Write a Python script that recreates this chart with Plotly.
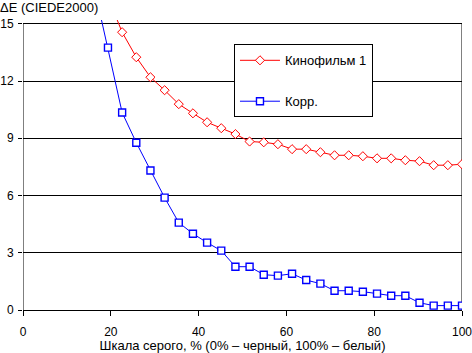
import plotly.graph_objects as go

x_vals = [i * 100 / 31 for i in range(32)]

kino = [None, None, None, None, None, None, 16.4, 14.56, 13.25, 12.2, 11.52, 10.79, 10.31, 9.84,
        9.53, 9.22, 8.83, 8.79, 8.69, 8.43, 8.43, 8.27, 8.11, 8.11, 8.06, 7.95, 7.95, 7.85,
        7.80, 7.59, 7.59, 7.64]
korr = [None, None, None, None, None, 17.0, 13.75, 10.35, 8.77, 7.31, 5.89, 4.58, 4.0, 3.53,
        3.11, 2.27, 2.27, 1.85, 1.80, 1.90, 1.57, 1.38, 1.01, 1.01, 0.96, 0.86, 0.75, 0.75,
        0.38, 0.23, 0.23, 0.23]

series_names = ["Кинофильм 1", "Корр."]
x_ticks = [0, 20, 40, 60, 80, 100]
y_ticks = [0, 3, 6, 9, 12, 15]

FONT = "Liberation Sans, Arial, sans-serif"

fig = go.Figure()
fig.add_trace(go.Scatter(
    x=x_vals, y=kino, name=series_names[0], mode="lines+markers",
    line=dict(color="#FF0000", width=1),
    marker=dict(symbol="diamond", size=7, color="white", line=dict(color="#FF0000", width=1)),
    legendgroup="a", connectgaps=False,
))
fig.add_trace(go.Scatter(
    x=x_vals, y=korr, name=series_names[1], mode="lines+markers",
    line=dict(color="#0000FF", width=1),
    marker=dict(symbol="square", size=7, color="white", line=dict(color="#0000FF", width=1.4)),
    legendgroup="b", connectgaps=False,
))

# plot border lines
for xv in [0, 100]:
    fig.add_shape(type="line", x0=xv, x1=xv, y0=0, y1=15, xref="x", yref="y",
                  line=dict(color="black", width=1), layer="below")

fig.update_layout(
    width=472, height=353,
    margin=dict(l=23, r=10, t=20, b=43, autoexpand=False),
    paper_bgcolor="white", plot_bgcolor="white",
    font=dict(family=FONT, size=13, color="black"),
    title=dict(text="ΔE (CIEDE2000)", x=0, xref="container", xanchor="left",
               y=0.992, yref="container", yanchor="top",
               font=dict(family=FONT, size=13, color="black")),
    showlegend=True,
    legend=dict(x=0.4806, y=0.916, xanchor="left", yanchor="top",
                bgcolor="white", bordercolor="black", borderwidth=1,
                tracegroupgap=21, font=dict(family=FONT, size=13),
                itemwidth=40),
    xaxis=dict(range=[0, 100], tickvals=x_ticks, ticks="outside", ticklen=5,
               tickcolor="black", showgrid=False, zeroline=False,
               showline=True, linecolor="black", linewidth=1,
               automargin=False, ticklabeloverflow="allow", ticklabelstandoff=6,
               title=dict(text="Шкала серого, % (0% – черный, 100% – белый)", standoff=2,
                          font=dict(family=FONT, size=13)),
               tickfont=dict(family=FONT, size=12)),
    yaxis=dict(range=[0, 15.2], tickvals=y_ticks, ticks="outside", ticklen=4,
               tickcolor="black", showgrid=True, gridcolor="black", gridwidth=1,
               zeroline=False, showline=False, automargin=False,
               ticklabeloverflow="allow", ticklabelstandoff=2,
               tickfont=dict(family=FONT, size=12)),
)

fig.write_html("out.html")
